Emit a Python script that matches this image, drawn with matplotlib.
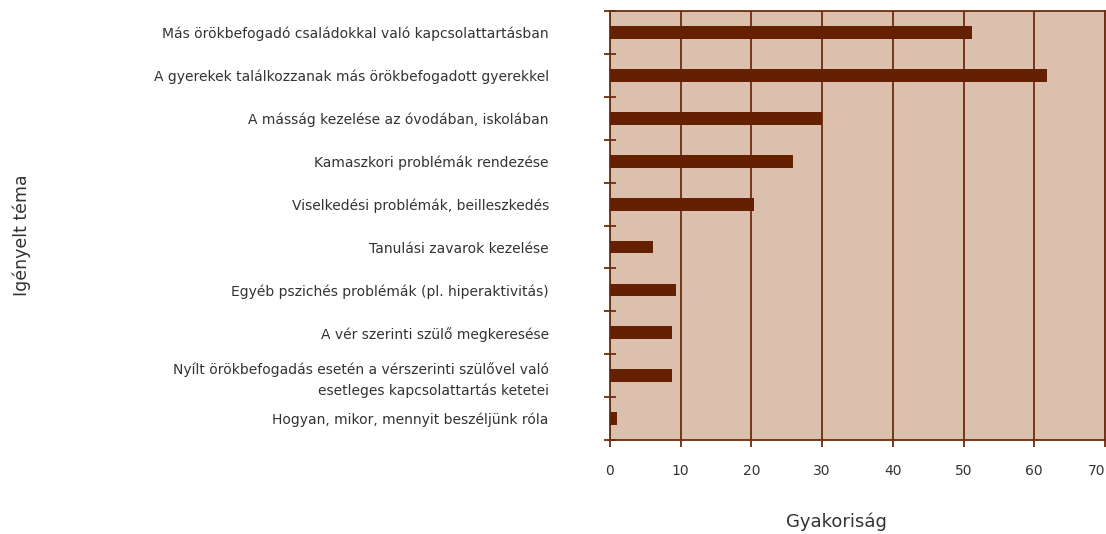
import matplotlib.pyplot as plt
import numpy as np

# topics, top to bottom as in the picture
topics = [
    "Más örökbefogadó családokkal való kapcsolattartásban",
    "A gyerekek találkozzanak más örökbefogadott gyerekkel",
    "A másság kezelése az óvodában, iskolában",
    "Kamaszkori problémák rendezése",
    "Viselkedési problémák, beilleszkedés",
    "Tanulási zavarok kezelése",
    "Egyéb pszichés problémák (pl. hiperaktivitás)",
    "A vér szerinti szülő megkeresése",
    "Nyílt örökbefogadás esetén a vérszerinti szülővel való\nesetleges kapcsolattartás ketetei",
    "Hogyan, mikor, mennyit beszéljünk róla",
]
frequency = [51.2, 61.8, 30.0, 25.9, 20.4, 6.1, 9.3, 8.8, 8.8, 1.0]
x_ticks = [0, 10, 20, 30, 40, 50, 60, 70]

bg_color = "#DBC0AE"
bar_color = "#642000"
line_color = "#6E2B0E"
text_color = "#333333"

fig = plt.figure(figsize=(11.06, 5.34), dpi=100)
ax = fig.add_axes([0.5515, 0.176, 0.4476, 0.803])
ax.set_facecolor(bg_color)

n = len(topics)
ypos = np.arange(n)
ax.barh(ypos, frequency, height=0.3, color=bar_color, zorder=3)

ax.set_xlim(0, 70)
ax.set_ylim(n - 0.5, -0.5)

ax.set_xticks(x_ticks)
ax.set_xticklabels([str(t) for t in x_ticks])
ax.get_xticklabels()[-1].set_ha("right")
ax.grid(axis="x", color=line_color, linewidth=1.3, zorder=1)

ax.set_yticks(ypos)
ax.set_yticklabels(topics, ha="right", linespacing=1.5)
ax.set_yticks(np.arange(n + 1) - 0.5, minor=True)

ax.tick_params(axis="y", which="major", length=0, pad=44, labelsize=10, labelcolor=text_color)
ax.tick_params(axis="y", which="minor", direction="inout", length=8, width=1.3, color=line_color)
ax.tick_params(axis="x", which="major", direction="out", length=5, width=1.3, color=line_color,
               pad=12, labelsize=10, labelcolor=text_color)

for side in ["left", "right", "top", "bottom"]:
    ax.spines[side].set_color(line_color)
    ax.spines[side].set_linewidth(1.3)

ax.set_xlabel("Gyakoriság", fontsize=13, color=text_color)
ax.xaxis.set_label_coords(0.457, -0.17)
ax.set_ylabel("Igényelt téma", fontsize=12.5, color=text_color)
ax.yaxis.set_label_coords(-1.17, 0.478)

fig.savefig("out.png", dpi=100, facecolor="white")
